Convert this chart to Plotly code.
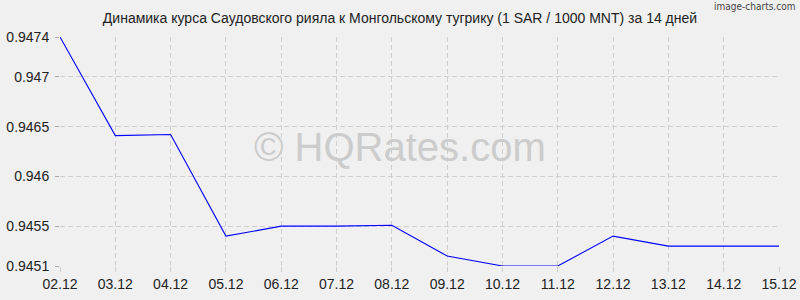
import plotly.graph_objects as go

dates = ["02.12", "03.12", "04.12", "05.12", "06.12", "07.12", "08.12",
         "09.12", "10.12", "11.12", "12.12", "13.12", "14.12", "15.12"]
rates = [0.9474, 0.94641, 0.94642, 0.94540, 0.94550, 0.94550, 0.94551,
         0.94520, 0.94510, 0.94510, 0.94540, 0.94530, 0.94530, 0.94530]
y_ticks = [0.9451, 0.9455, 0.946, 0.9465, 0.947, 0.9474]
y_tick_text = ["0.9451", "0.9455", "0.946", "0.9465", "0.947", "0.9474"]
title_text = "Динамика курса Саудовского рияла к Монгольскому тугрику (1 SAR / 1000 MNT) за 14 дней"

FONT = "Liberation Sans, Arial, sans-serif"
BG = "#f0f0f0"
GRID = "#cfcfcf"

fig = go.Figure()
fig.add_trace(go.Scatter(
    x=list(range(len(dates))), y=rates, mode="lines",
    line=dict(color="#0000ff", width=1.1), hoverinfo="skip",
))

fig.update_layout(
    width=800, height=300,
    margin=dict(l=60, r=21, t=37, b=34, autoexpand=False),
    paper_bgcolor=BG, plot_bgcolor=BG,
    showlegend=False,
    font=dict(family=FONT, size=14, color="#222222"),
    title=dict(text=title_text, x=0.5, xanchor="center",
               y=1 - 18 / 300, yanchor="middle", yref="container",
               font=dict(family=FONT, size=14, color="#222222"),
               automargin=False),
)

fig.update_xaxes(
    range=[0, len(dates) - 1], automargin=False,
    tickmode="array", tickvals=list(range(len(dates))), ticktext=dates,
    showgrid=True, gridcolor=GRID, griddash="5px,3px", gridwidth=1,
    zeroline=False, showline=False,
    ticks="outside", ticklen=5, tickcolor=GRID,
    tickfont=dict(family=FONT, size=14, color="#222222"),
)
fig.update_yaxes(
    range=[y_ticks[0], y_ticks[-1]], automargin=False,
    tickmode="array", tickvals=y_ticks, ticktext=y_tick_text,
    showgrid=True, gridcolor=GRID, griddash="5px,3px", gridwidth=1,
    zeroline=False, showline=False,
    ticks="outside", ticklen=4, tickcolor="#aaaaaa",
    ticklabelstandoff=3,
    tickfont=dict(family=FONT, size=14, color="#222222"),
)

fig.add_annotation(
    text="© HQRates.com", xref="paper", yref="paper",
    x=(400 - 60) / 719, y=(266 - 146.5) / 229,
    xanchor="center", yanchor="middle", showarrow=False,
    font=dict(family=FONT, size=40, color="#cccccc"),
)
fig.add_annotation(
    text="image-charts.com", xref="paper", yref="paper",
    x=(797 - 60) / 719, y=(266 - 7) / 229,
    xanchor="right", yanchor="middle", showarrow=False,
    font=dict(family="DejaVu Sans Condensed, DejaVu Sans, sans-serif", size=10, color="#444444"),
)

fig.write_html("out.html")
